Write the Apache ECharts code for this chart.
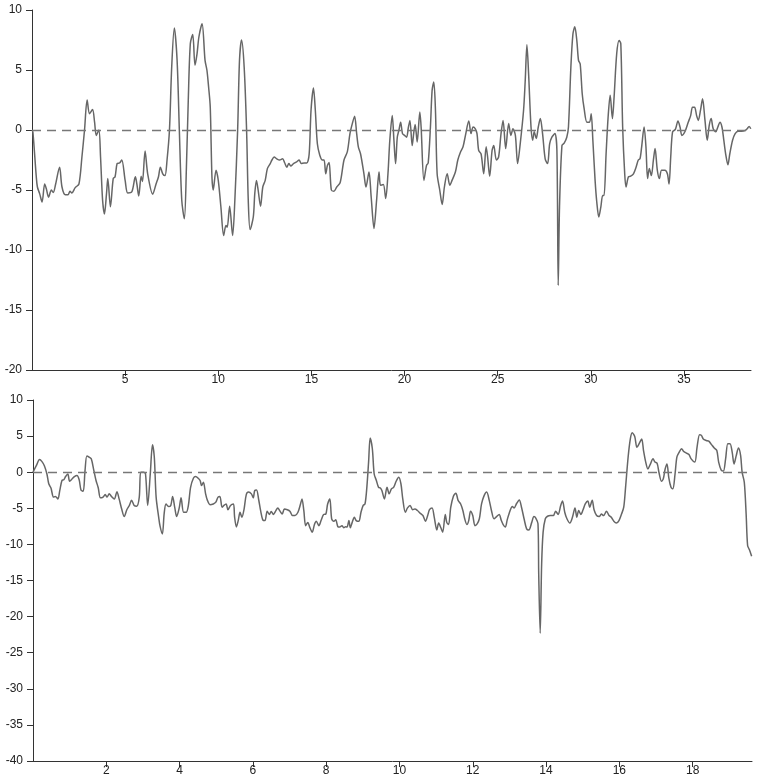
<!DOCTYPE html>
<html>
<head>
<meta charset="utf-8">
<script src="https://cdn.jsdelivr.net/npm/echarts@6/dist/echarts.min.js"></script>
<style>html,body{margin:0;padding:0;background:#fff}#c{width:760px;height:782px}</style>
</head>
<body>
<div id="c"></div>
<script>
var topX = [0,0.05,0.23,0.29,0.41,0.54,0.68,0.77,0.89,1.04,1.14,1.27,1.48,1.61,1.79,1.93,2.04,2.14,2.32,2.52,2.68,2.82,2.96,3.09,3.25,3.36,3.45,3.59,3.68,3.79,3.89,4.0,4.07,4.21,4.36,4.46,4.57,4.70,4.82,5.0,5.14,5.36,5.55,5.63,5.73,5.86,5.93,6.07,6.21,6.48,6.66,6.79,6.89,7.02,7.14,7.25,7.38,7.5,7.64,7.79,7.91,8.04,8.18,8.29,8.39,8.5,8.63,8.75,8.86,8.96,9.13,9.29,9.39,9.48,9.57,9.66,9.73,9.88,10.0,10.14,10.29,10.41,10.48,10.61,10.77,10.89,11.04,11.14,11.25,11.39,11.52,11.61,11.71,11.88,11.96,12.05,12.14,12.27,12.39,12.52,12.64,12.79,12.88,13.0,13.14,13.29,13.45,13.57,13.68,13.79,13.89,14.04,14.21,14.34,14.46,14.61,14.75,14.88,14.98,15.11,15.21,15.32,15.45,15.59,15.68,15.77,15.86,15.95,16.07,16.21,16.36,16.54,16.75,16.93,17.07,17.2,17.32,17.43,17.52,17.64,17.82,17.93,18.09,18.21,18.36,18.5,18.63,18.71,18.86,18.99,19.11,19.21,19.34,19.43,19.52,19.61,19.7,19.79,19.89,20.0,20.11,20.21,20.29,20.41,20.5,20.57,20.68,20.82,20.89,21.04,21.18,21.27,21.39,21.48,21.57,21.66,21.75,21.89,22.02,22.14,22.29,22.43,22.55,22.73,22.86,23.0,23.14,23.27,23.45,23.57,23.68,23.8,23.89,23.98,24.11,24.25,24.38,24.46,24.57,24.7,24.79,24.93,25.05,25.18,25.29,25.43,25.59,25.71,25.82,25.95,26.07,26.21,26.39,26.48,26.57,26.66,26.79,26.88,26.96,27.07,27.18,27.29,27.41,27.55,27.68,27.79,27.91,28.07,28.18,28.25,28.32,28.45,28.57,28.71,28.8,28.93,29.04,29.14,29.25,29.34,29.43,29.54,29.64,29.79,29.93,30.02,30.11,30.23,30.32,30.43,30.54,30.64,30.71,30.82,30.93,31.04,31.16,31.25,31.39,31.52,31.61,31.71,31.82,31.89,32.02,32.14,32.29,32.43,32.55,32.64,32.73,32.86,32.96,33.05,33.14,33.25,33.36,33.45,33.57,33.68,33.8,33.98,34.11,34.2,34.29,34.39,34.54,34.68,34.79,34.89,35.05,35.23,35.36,35.46,35.57,35.68,35.77,35.89,36.0,36.13,36.25,36.36,36.46,36.57,36.71,36.82,36.93,37.04,37.14,37.25,37.36,37.46,37.61,37.75,37.91,38.09,38.27,38.39,38.5,38.59];
var topY = [0,-0.2,-3.9,-4.75,-5.3,-6.0,-4.5,-4.9,-5.6,-5.0,-5.2,-4.5,-3.1,-4.75,-5.4,-5.4,-5.1,-5.25,-4.8,-4.5,-2.25,0,2.5,1.35,1.7,0.65,-0.45,0,-2.25,-5.85,-7.0,-5.3,-4.05,-6.4,-4.05,-3.9,-2.8,-2.75,-2.5,-4.2,-5.25,-5.15,-3.9,-4.5,-5.5,-3.85,-4.3,-1.75,-3.65,-5.35,-4.5,-3.9,-3.1,-3.65,-3.8,-2.5,0,5.25,8.5,5.8,0,-5.85,-7.4,-3.1,2.5,7.2,7.95,5.4,6.35,7.75,8.85,5.8,5.0,3.6,1.9,-3.9,-5.0,-3.35,-4.2,-6.4,-8.8,-7.95,-8.1,-6.35,-8.8,-5.85,0,5.8,7.5,5.25,0,-5.85,-8.3,-7.25,-5.3,-4.2,-5.0,-6.35,-4.75,-4.2,-3.2,-2.8,-2.5,-2.25,-2.4,-2.5,-2.4,-2.75,-3.1,-2.8,-3.0,-2.8,-2.65,-2.5,-2.8,-2.75,-2.75,-2.0,1.65,3.5,1.65,-1.15,-2.1,-2.5,-2.5,-3.65,-2.95,-2.7,-5.0,-5.1,-4.75,-4.4,-2.5,-1.8,-0.3,0.55,1.15,-0.3,-1.4,-2.0,-3.65,-4.75,-3.5,-5.6,-8.2,-5.85,-3.5,-4.6,-4.55,-5.7,-3.65,-0.85,1.2,-0.85,-2.8,-0.6,0,0.65,-0.3,-0.45,-0.6,0.25,0.8,-1.3,-0.15,0.45,-1.0,1.5,0.25,-4.2,-2.95,-2.75,0.25,3.3,4.0,1.65,-3.65,-5.0,-6.2,-4.75,-3.65,-4.6,-4.2,-3.5,-2.5,-1.85,-1.4,-0.45,0.75,-0.3,0.25,0.1,-0.3,-1.7,-2.0,-3.65,-1.4,-2.25,-3.85,-1.7,-1.3,-2.5,-2.25,-0.3,0.8,-1.55,0.55,-0.45,0.1,-0.45,-2.8,-1.15,1.65,4.15,7.1,4.7,0.25,-0.85,-0.15,-0.7,0.25,0.95,-0.3,-2.4,-2.8,-1.15,-0.6,-0.3,-1.7,-12.95,-6.4,-1.3,-1.1,-0.6,0.25,5.25,8.0,8.6,7.45,5.8,5.5,3.0,1.8,0.65,0.65,1.35,-0.85,-4.2,-6.0,-7.25,-6.4,-5.45,-5.45,-2.0,1.1,2.9,0.95,2.75,6.35,7.45,7.2,0.25,-3.65,-4.75,-3.9,-3.85,-3.65,-3.1,-2.5,-2.4,-1.4,0.25,-1.4,-4.05,-3.2,-3.8,-2.5,-1.55,-3.35,-4.05,-3.35,-3.35,-3.65,-4.5,-2.25,-0.15,0.05,0.75,0.25,-0.45,-0.15,0.65,1.2,1.9,1.9,1.2,0.8,1.65,2.6,0.8,-0.85,0.4,0.95,0.1,-0.15,0.25,0.65,0.25,-0.85,-2.1,-2.9,-2.0,-0.85,-0.3,-0.1,-0.1,-0.05,0.1,0.3,0.1];

var bottomX = [0,0.09,0.18,0.24,0.31,0.38,0.43,0.49,0.56,0.61,0.68,0.73,0.79,0.84,0.89,0.95,1.0,1.07,1.13,1.2,1.26,1.31,1.37,1.42,1.47,1.53,1.59,1.66,1.72,1.78,1.84,1.91,1.97,2.02,2.08,2.14,2.22,2.29,2.35,2.42,2.49,2.56,2.63,2.69,2.76,2.83,2.9,2.94,3.02,3.07,3.13,3.2,3.26,3.31,3.36,3.43,3.47,3.53,3.58,3.63,3.7,3.76,3.81,3.87,3.92,3.99,4.04,4.11,4.18,4.24,4.3,4.38,4.44,4.5,4.56,4.6,4.65,4.71,4.76,4.83,4.92,4.99,5.05,5.1,5.16,5.21,5.27,5.32,5.39,5.47,5.5,5.55,5.6,5.65,5.7,5.76,5.82,5.88,5.96,6.01,6.05,6.1,6.16,6.21,6.27,6.33,6.39,6.45,6.5,6.56,6.62,6.68,6.74,6.8,6.86,6.94,7.01,7.08,7.15,7.23,7.3,7.34,7.39,7.44,7.5,7.55,7.62,7.68,7.73,7.8,7.86,7.93,7.99,8.04,8.1,8.15,8.21,8.26,8.32,8.37,8.43,8.48,8.53,8.57,8.62,8.66,8.71,8.77,8.82,8.89,8.95,9.01,9.06,9.11,9.16,9.2,9.26,9.31,9.37,9.43,9.48,9.52,9.59,9.66,9.72,9.78,9.84,9.91,9.98,10.04,10.09,10.16,10.22,10.29,10.36,10.42,10.49,10.57,10.64,10.71,10.77,10.82,10.89,10.95,11.02,11.07,11.13,11.18,11.25,11.29,11.34,11.4,11.47,11.54,11.6,11.67,11.73,11.78,11.84,11.89,11.94,12.0,12.06,12.12,12.18,12.24,12.31,12.38,12.45,12.51,12.58,12.65,12.72,12.78,12.83,12.89,12.94,13.02,13.08,13.13,13.2,13.27,13.33,13.4,13.47,13.53,13.61,13.67,13.72,13.78,13.8,13.84,13.88,13.92,13.98,14.04,14.12,14.2,14.26,14.33,14.4,14.45,14.51,14.57,14.65,14.72,14.79,14.84,14.89,14.95,15.01,15.07,15.14,15.19,15.26,15.31,15.38,15.45,15.51,15.57,15.65,15.72,15.78,15.85,15.92,15.99,16.06,16.12,16.17,16.24,16.3,16.35,16.42,16.48,16.54,16.61,16.66,16.72,16.78,16.84,16.92,16.97,17.03,17.08,17.15,17.2,17.25,17.3,17.35,17.41,17.46,17.52,17.57,17.63,17.7,17.75,17.83,17.9,17.96,18.06,18.12,18.19,18.24,18.29,18.37,18.44,18.51,18.59,18.66,18.71,18.78,18.84,18.9,18.96,19.02,19.08,19.13,19.19,19.25,19.31,19.35,19.41,19.46,19.5,19.55,19.61];
var bottomY = [0,0.9,1.75,1.5,0.9,-0.25,-1.6,-2.2,-3.45,-3.35,-3.7,-2.55,-1.15,-1.05,-0.6,-0.25,-1.25,-0.9,-0.6,-0.45,-1.05,-2.45,-2.65,0.25,2.25,2.1,1.85,0.25,-1.15,-2.15,-3.55,-3.45,-3.1,-3.45,-3.0,-3.35,-3.7,-2.7,-3.7,-5.1,-6.15,-5.2,-4.6,-3.9,-4.6,-4.7,-3.45,0,0,-0.25,-4.6,-0.25,3.8,2.1,-3.45,-6.25,-7.55,-8.55,-5.7,-4.4,-4.75,-4.6,-3.35,-4.95,-6.15,-4.95,-3.55,-5.55,-5.55,-4.6,-2.1,-0.8,-0.6,-0.8,-1.15,-1.85,-1.4,-3.0,-3.9,-4.5,-4.4,-4.15,-3.45,-3.35,-4.85,-4.6,-4.4,-5.2,-4.6,-4.4,-6.15,-7.6,-6.7,-5.55,-6.25,-5.1,-3.1,-2.75,-3.0,-3.55,-2.55,-2.45,-3.85,-5.3,-6.6,-6.7,-5.4,-5.85,-5.45,-5.85,-5.4,-4.95,-5.4,-5.8,-5.1,-5.2,-5.4,-6.0,-6.0,-5.55,-4.4,-3.7,-5.3,-7.4,-6.95,-7.6,-8.3,-7.25,-6.8,-7.4,-6.7,-5.85,-5.8,-4.4,-3.7,-6.45,-6.8,-6.6,-7.55,-7.6,-7.4,-7.7,-7.55,-7.6,-6.7,-7.7,-6.95,-6.25,-6.7,-6.8,-5.55,-4.6,-4.4,-2.1,1.6,4.75,3.25,-0.25,-1.15,-2.1,-2.2,-2.55,-3.7,-2.1,-3.0,-2.3,-2.1,-1.25,-0.7,-1.6,-3.7,-5.55,-4.95,-4.6,-5.2,-5.1,-5.3,-5.7,-6.0,-6.8,-6.0,-5.2,-4.95,-6.25,-8.0,-7.05,-7.7,-8.3,-5.85,-6.95,-7.25,-4.85,-3.35,-2.9,-3.9,-4.4,-5.3,-6.45,-7.25,-6.7,-5.4,-6.0,-7.4,-7.15,-6.45,-4.4,-3.25,-2.75,-3.9,-5.3,-6.45,-6.15,-5.85,-6.7,-7.25,-7.6,-6.6,-5.3,-4.75,-4.95,-4.3,-3.85,-4.85,-6.45,-7.85,-8.0,-6.95,-6.15,-6.35,-7.15,-14.1,-22.3,-12.7,-8.3,-6.45,-6.1,-6.0,-6.0,-5.4,-5.85,-4.6,-4.0,-5.55,-6.45,-7.05,-6.25,-4.95,-6.25,-5.3,-5.85,-5.2,-4.4,-4.0,-4.85,-3.9,-5.2,-6.0,-6.15,-5.8,-6.0,-5.4,-6.0,-6.25,-6.8,-7.05,-6.7,-5.8,-4.85,-2.1,2.1,4.6,5.45,4.95,3.45,3.95,4.6,3.0,1.4,0.45,1.05,1.85,1.4,1.25,0,-1.25,-0.9,0.45,1.15,-0.8,-2.1,-2.3,-0.25,2.1,2.75,3.25,2.9,2.65,2.45,1.85,1.4,3.45,5.2,5.1,4.6,4.4,4.3,3.85,3.35,3.0,1.4,0.3,0.15,1.85,3.95,3.95,2.75,1.15,2.3,3.35,2.3,0,-1.4,-5.8,-10.15,-10.75,-11.65];

var topXTicks = [5,10,15,20,25,30,35];
var topYTicks = [-20,-15,-10,-5,0,5,10];
var bottomXTicks = [2,4,6,8,10,12,14,16,18];
var bottomYTicks = [-40,-35,-30,-25,-20,-15,-10,-5,0,5,10];
var topXMax = 38.6, bottomXMax = 19.62;

function zip(a, b) { return a.map(function (v, i) { return [v, b[i]]; }); }

var axisCommon = {
  axisLine: { show: true, onZero: false, lineStyle: { color: '#333', width: 1 } },
  axisTick: { show: true, length: 6, lineStyle: { color: '#333' } },
  splitLine: { show: false },
  axisLabel: { color: '#222', fontSize: 12, fontFamily: 'Liberation Sans, Arial, sans-serif' }
};
function xAxis(idx, max, ticks) {
  return {
    type: 'value', gridIndex: idx, min: 0, max: max,
    axisLine: axisCommon.axisLine, splitLine: axisCommon.splitLine,
    axisTick: Object.assign({}, axisCommon.axisTick, { customValues: ticks }),
    axisLabel: Object.assign({}, axisCommon.axisLabel, { customValues: ticks, margin: 4 })
  };
}
function yAxis(idx, min, max, ticks) {
  return {
    type: 'value', gridIndex: idx, min: min, max: max, interval: 5,
    axisLine: axisCommon.axisLine, splitLine: axisCommon.splitLine,
    axisTick: Object.assign({}, axisCommon.axisTick, { customValues: ticks }),
    axisLabel: Object.assign({}, axisCommon.axisLabel, { customValues: ticks, margin: 10 })
  };
}
var zeroLine = {
  silent: true, symbol: 'none', label: { show: false },
  lineStyle: { color: '#777', type: [9, 6], width: 1.4 },
  data: [{ yAxis: 0 }]
};
var chart = echarts.init(document.getElementById('c'), null, { renderer: 'canvas' });
chart.setOption({
  animation: false,
  backgroundColor: '#fff',
  grid: [
    { left: 32, top: 10, right: 9, height: 360 },
    { left: 33, top: 400, right: 8, height: 361 }
  ],
  xAxis: [xAxis(0, topXMax, topXTicks), xAxis(1, bottomXMax, bottomXTicks)],
  yAxis: [yAxis(0, -20, 10, topYTicks), yAxis(1, -40, 10, bottomYTicks)],
  series: [
    { type: 'line', xAxisIndex: 0, yAxisIndex: 0, data: zip(topX, topY), showSymbol: false,
      smooth: 0.3, lineStyle: { color: '#666', width: 1.5 }, markLine: zeroLine },
    { type: 'line', xAxisIndex: 1, yAxisIndex: 1, data: zip(bottomX, bottomY), showSymbol: false,
      smooth: 0.3, lineStyle: { color: '#666', width: 1.5 }, markLine: zeroLine }
  ]
});
</script>
</body>
</html>
